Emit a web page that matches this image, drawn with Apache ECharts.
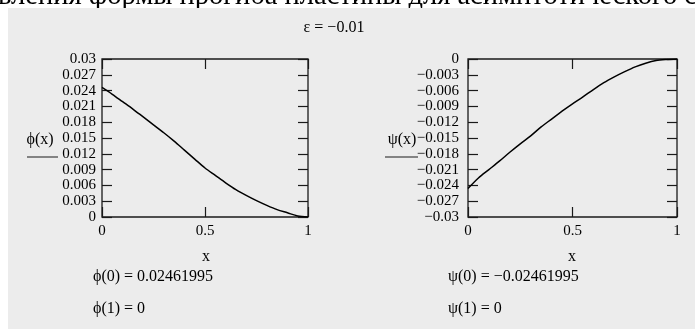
<!DOCTYPE html>
<html><head><meta charset="utf-8">
<script src="https://cdn.jsdelivr.net/npm/echarts@6/dist/echarts.min.js"></script>
<style>html,body{margin:0;padding:0;background:#fff}#c{width:695px;height:329px}</style>
</head><body><div id="c"></div>
<script>
// data
const xs  = [0, 0.05, 0.1, 0.15, 0.2, 0.25, 0.3, 0.35, 0.4, 0.45, 0.5, 0.55, 0.6, 0.65, 0.7, 0.75, 0.8, 0.85, 0.9, 0.95, 1];
const phi = [0.0246, 0.0233, 0.0219, 0.0205, 0.0190, 0.0175, 0.0160, 0.0144, 0.0127, 0.0110, 0.0093, 0.0079, 0.0065, 0.0052, 0.0041, 0.0031, 0.0022, 0.0014, 0.0008, 0.0002, 0.0000];
const psi = [-0.0246, -0.0226, -0.0210, -0.0194, -0.0177, -0.0161, -0.0146, -0.0129, -0.0114, -0.0099, -0.0085, -0.0072, -0.0058, -0.0045, -0.0034, -0.0024, -0.0015, -0.0008, -0.0003, -0.0001, 0];
const xTicks = [0, 0.5, 1];
const phiRange = [0, 0.03, 0.003];
const psiRange = [-0.03, 0, 0.003];
const headText = 'вления формы прогиба пластины для асимптотического случая';
const epsText = 'ε = −0.01';
const phiName = 'ϕ(x)', psiName = 'ψ(x)', xName = 'x';
const phiNotes = ['ϕ(0) = 0.02461995', 'ϕ(1) = 0'];
const psiNotes = ['ψ(0) = −0.02461995', 'ψ(1) = 0'];

const serif = '"Liberation Serif","Times New Roman",serif';
const ink = '#1a1a1a';
const chart = echarts.init(document.getElementById('c'));

function fmtY(v) {
  if (Math.abs(v) < 1e-12) return '0';
  return String(+v.toFixed(3)).replace('-', '−');
}
function xAxes(g) {
  const base = {gridIndex: g, type: 'value', min: xTicks[0], max: xTicks[2], interval: xTicks[1] - xTicks[0],
    axisLine: {show: false, onZero: false}, splitLine: {show: false},
    axisTick: {inside: true, length: 10, lineStyle: {color: ink, width: 1.2}}};
  return [
    Object.assign({}, base, {position: 'bottom',
      axisLabel: {color: '#000', fontFamily: serif, fontSize: 15, margin: 7,
        formatter: v => String(+v.toFixed(2))}}),
    Object.assign({}, base, {position: 'top', axisLabel: {show: false}})
  ];
}
function yAxes(g, r, margin) {
  const base = {gridIndex: g, type: 'value', min: r[0], max: r[1], interval: r[2],
    axisLine: {show: false, onZero: false}, splitLine: {show: false},
    axisTick: {inside: true, length: 10, lineStyle: {color: ink, width: 1.2}}};
  return [
    Object.assign({}, base, {position: 'left',
      axisLabel: {color: '#000', fontFamily: serif, fontSize: 15, margin: margin, formatter: fmtY}}),
    Object.assign({}, base, {position: 'right', axisLabel: {show: false}})
  ];
}
function txt(t, x, y, size, align) {
  return {type: 'text', z: 5, style: {text: t, x: x, y: y, font: size + 'px ' + serif, fill: '#000',
    textAlign: align || 'left', textVerticalAlign: 'middle'}};
}
function hline(x1, x2, y) {
  return {type: 'line', z: 5, shape: {x1: x1, y1: y, x2: x2, y2: y}, style: {stroke: ink, lineWidth: 1}};
}

chart.setOption({
  animation: false,
  backgroundColor: '#fff',
  grid: [
    {left: 102, top: 59, width: 206, height: 158, show: true, borderColor: ink, borderWidth: 1.3, backgroundColor: 'transparent'},
    {left: 468, top: 59, width: 209, height: 158, show: true, borderColor: ink, borderWidth: 1.3, backgroundColor: 'transparent'}
  ],
  xAxis: [].concat(xAxes(0), xAxes(1)),
  yAxis: [].concat(yAxes(0, phiRange, 6), yAxes(1, psiRange, 9)),
  series: [
    {type: 'line', xAxisIndex: 0, yAxisIndex: 0, data: xs.map((x, i) => [x, phi[i]]),
      showSymbol: false, smooth: 0.3, lineStyle: {color: '#000', width: 1.5}},
    {type: 'line', xAxisIndex: 2, yAxisIndex: 2, data: xs.map((x, i) => [x, psi[i]]),
      showSymbol: false, smooth: 0.3, lineStyle: {color: '#000', width: 1.5}}
  ],
  graphic: [
    {type: 'text', z: -20, style: {text: headText, x: -2, y: 11, font: '28.5px ' + serif, fill: '#000',
      textAlign: 'left', textVerticalAlign: 'bottom'}},
    {type: 'rect', z: -10, shape: {x: 8, y: 8, width: 687, height: 321}, style: {fill: '#ececec'}},
    txt(epsText, 334, 28, 16, 'center'),
    txt(phiName, 40, 140, 16, 'center'),
    hline(27, 58, 157),
    txt(psiName, 402, 140, 16, 'center'),
    hline(385, 418, 157),
    txt(xName, 206, 257, 16, 'center'),
    txt(xName, 572, 257, 16, 'center'),
    txt(phiNotes[0], 93, 277, 16),
    txt(phiNotes[1], 93, 309, 16),
    txt(psiNotes[0], 448, 277, 16),
    txt(psiNotes[1], 448, 309, 16)
  ]
});
</script></body></html>
